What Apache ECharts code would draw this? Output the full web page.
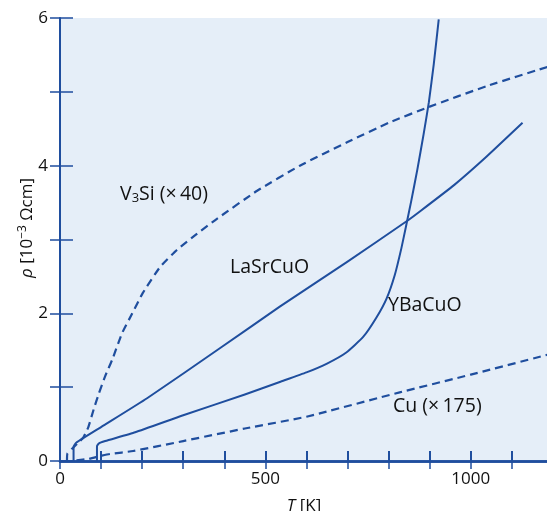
<!DOCTYPE html>
<html>
<head>
<meta charset="utf-8">
<script src="https://cdn.jsdelivr.net/npm/echarts@6/dist/echarts.min.js"></script>
<style>
  html, body { margin: 0; padding: 0; background: #fff; }
  #chart { width: 547px; height: 511px; }
</style>
</head>
<body>
<div id="chart"></div>
<script>
// data: T in K, rho in 10^-3 Ohm cm
var tV3Si = [17, 18, 30, 45, 57, 69, 82, 95, 110, 127, 151, 176, 202, 244, 285, 334, 382, 480, 584, 700, 800, 900, 1040, 1188];
var rV3Si = [0, 0.1, 0.17, 0.25, 0.32, 0.46, 0.7, 0.92, 1.15, 1.37, 1.73, 2.0, 2.28, 2.63, 2.86, 3.08, 3.28, 3.66, 4.0, 4.32, 4.58, 4.8, 5.08, 5.34];

var tLaSrCuO = [30, 33, 33, 40, 100, 212, 390, 535, 700, 842, 876, 960, 1038, 1126];
var rLaSrCuO = [0, 0, 0.19, 0.25, 0.46, 0.85, 1.53, 2.09, 2.7, 3.24, 3.38, 3.74, 4.12, 4.58];

var tYBaCuO = [88, 90, 90, 95, 110, 183, 300, 450, 535, 600, 650, 697, 738, 770, 795, 815, 831, 842, 855, 870, 885, 898, 910, 922];
var rYBaCuO = [0, 0, 0.2, 0.24, 0.27, 0.39, 0.62, 0.9, 1.07, 1.2, 1.32, 1.47, 1.68, 1.94, 2.2, 2.52, 2.88, 3.17, 3.52, 3.95, 4.42, 4.86, 5.38, 5.98];

var tCu = [40, 70, 100, 122, 178, 300, 450, 600, 827, 1000, 1188];
var rCu = [0.01, 0.03, 0.07, 0.095, 0.135, 0.27, 0.44, 0.6, 0.93, 1.17, 1.44];

var xTicksLabelled = [0, 500, 1000];
var yTicksLabelled = [0, 2, 4, 6];

var blue = '#1f4e9e';
var font = 'Open Sans';
var textFont = '19.5px "' + font + '"';

function pairs(xs, ys) {
  return xs.map(function (x, i) { return [x, ys[i]]; });
}

function curve(name, xs, ys, dashed) {
  return {
    name: name,
    type: 'line',
    data: pairs(xs, ys),
    showSymbol: false,
    smooth: 0.15,
    lineStyle: { color: blue, width: dashed ? 2.2 : 2, type: dashed ? [8, 5] : 'solid', join: 'round' },
    z: 3
  };
}

var chart = echarts.init(document.getElementById('chart'));
var option = {
  animation: false,
  grid: {
    left: 60, top: 18, right: -1, bottom: 50,
    outerBoundsMode: 'none',
    show: true, backgroundColor: '#e5eef8', borderWidth: 0
  },
  xAxis: [
    {
      type: 'value', min: 0, max: 1188, interval: 100,
      axisLine: { show: true, lineStyle: { color: blue, width: 2.5 } },
      axisTick: { inside: true, length: 10, lineStyle: { color: blue, width: 2 } },
      axisLabel: {
        margin: 10, color: '#111', fontFamily: font, fontSize: 17, showMaxLabel: false,
        formatter: function (v) { return xTicksLabelled.indexOf(v) >= 0 ? String(v) : ''; }
      },
      splitLine: { show: false },
      name: '{i|T} [K]', nameLocation: 'middle', nameGap: 37,
      nameTextStyle: {
        color: '#111', fontFamily: font, fontSize: 17,
        rich: { i: { fontStyle: 'italic', fontFamily: font, fontSize: 17, color: '#111' } }
      }
    },
    {
      type: 'value', position: 'top', min: 0, max: 1188, interval: 100,
      axisLine: { show: true, lineStyle: { color: blue, width: 2.5 } },
      axisTick: { inside: true, length: 8, lineStyle: { color: blue, width: 1.5 } },
      axisLabel: { show: false },
      splitLine: { show: false }
    }
  ],
  yAxis: [
    {
      type: 'value', min: 0, max: 6, interval: 1,
      axisLine: { show: true, lineStyle: { color: blue, width: 2 } },
      axisTick: { inside: true, length: 13, lineStyle: { color: blue, width: 1.5 } },
      axisLabel: {
        margin: 12, color: '#111', fontFamily: font, fontSize: 17,
        formatter: function (v) { return yTicksLabelled.indexOf(v) >= 0 ? String(v) : ''; }
      },
      splitLine: { show: false }
    },
    {
      type: 'value', position: 'right', min: 0, max: 6, interval: 1,
      axisLine: { show: false },
      axisTick: { inside: true, length: 10, lineStyle: { color: blue, width: 1.5 } },
      axisLabel: { show: false },
      splitLine: { show: false }
    }
  ],
  series: [
    curve('V3Si', tV3Si, rV3Si, true),
    curve('LaSrCuO', tLaSrCuO, rLaSrCuO, false),
    curve('YBaCuO', tYBaCuO, rYBaCuO, false),
    curve('Cu', tCu, rCu, true)
  ],
  graphic: [
    {
      // y-axis title
      type: 'text', x: 27, y: 228, rotation: Math.PI / 2, z: 10,
      style: {
        text: '{i|ρ} [10{sup|−3} Ωcm]', fill: '#111', font: '17px "' + font + '"',
        align: 'center', verticalAlign: 'middle',
        rich: {
          i: { fontStyle: 'italic', fontFamily: font, fontSize: 17, fill: '#111' },
          sup: { fontFamily: font, fontSize: 12, fill: '#111', verticalAlign: 'top', padding: [0, 0, 8, 0] }
        }
      }
    },
    {
      type: 'text', left: 120, top: 184, z: 10,
      style: {
        text: 'V{sub|3}Si (×\u200940)', fill: '#111', font: textFont,
        rich: { sub: { fontSize: 13, fontFamily: font, fill: '#111', verticalAlign: 'bottom', padding: [9, 0, 0, 0] } }
      }
    },
    { type: 'text', left: 230, top: 257, z: 10, style: { text: 'LaSrCuO', fill: '#111', font: textFont } },
    { type: 'text', left: 388, top: 295, z: 10, style: { text: 'YBaCuO', fill: '#111', font: textFont } },
    { type: 'text', left: 393, top: 396, z: 10, style: { text: 'Cu (×\u2009175)', fill: '#111', font: textFont } }
  ]
};
chart.setOption(option);
</script>
</body>
</html>
